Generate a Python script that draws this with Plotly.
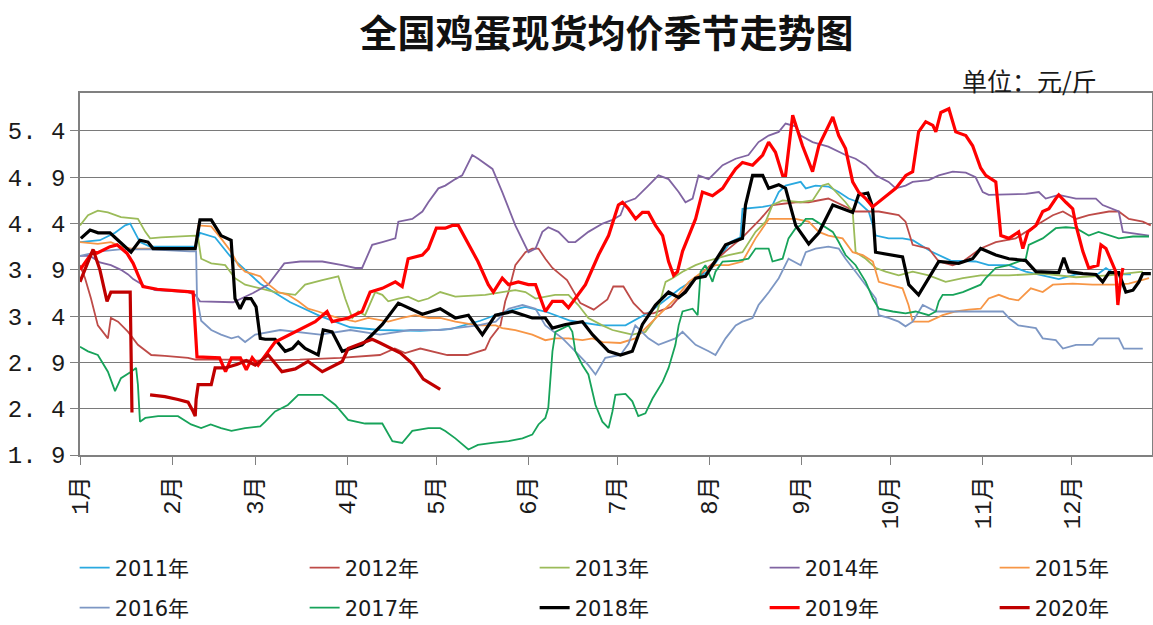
import plotly.graph_objects as go

# ---- axis labels ----
month_labels = ["1月", "2月", "3月", "4月", "5月", "6月", "7月", "8月", "9月", "10月", "11月", "12月"]
month_start_days = [0, 31, 59, 90, 120, 151, 181, 212, 243, 273, 304, 334]
y_tick_values = [1.9, 2.4, 2.9, 3.4, 3.9, 4.4, 4.9, 5.4]
y_tick_text = ["1. 9", "2. 4", "2. 9", "3. 4", "3. 9", "4. 4", "4. 9", "5. 4"]

# ---- series: (day of year, price yuan/jin) ----
s2011 = [(0,4.2),(6.7,4.22),(11.8,4.3),(15.2,4.38),(16.9,4.4),(18.5,4.3),(20.2,4.2),(23.6,4.15),(38.8,4.15),(40.4,4.3),(45.5,4.25),(50.5,4.05),(55.6,3.9),(60.7,3.75),(70.8,3.55),(80.9,3.4),(91,3.28),(101,3.25),(114.6,3.24),(124.7,3.26),(134.8,3.35),(143.2,3.45),(150,3.5),(156.7,3.45),(165.2,3.35),(175.3,3.3),(183.7,3.3),(192.1,3.45),(202.2,3.7),(212.3,3.9),(219.1,4.2),(222.4,4.25),(223.1,4.56),(229.9,4.58),(233.2,4.6),(235.3,4.74),(237.6,4.81),(242.7,4.85),(244.4,4.78),(247.7,4.81),(252,4.8),(255.5,4.74),(258.8,4.67),(262.2,4.63),(265.6,4.53),(268,4.27),(272.3,4.24),(277,4.24),(280.4,4.22),(286.5,4.1),(293.2,4.0),(301.6,3.99),(306,3.95),(312.8,3.95),(318.5,3.88),(324.2,3.84),(329.6,3.8),(335.4,3.85),(343,3.86),(345.5,3.92),(348.8,3.85),(353.9,3.85)]

s2012 = [(0,3.95),(1.7,3.81),(3.7,3.59),(6,3.3),(9.4,3.16),(10.4,3.38),(12.8,3.34),(16.2,3.23),(19.5,3.09),(24,2.98),(28.6,2.97),(36.4,2.95),(38.8,2.93),(50.5,2.93),(59,2.92),(74,2.93),(87.6,2.95),(101,2.98),(106,3.05),(109.5,3.0),(114.6,3.05),(123.7,2.98),(130.4,2.98),(136.5,3.04),(138.2,3.16),(141.6,3.3),(143.2,3.56),(144.3,3.66),(146.6,3.95),(150,4.09),(152.3,4.13),(154.4,4.13),(156.7,4.02),(159.1,3.92),(164,3.79),(168.5,3.54),(173,3.47),(177.6,3.58),(179.6,3.72),(183,3.72),(186.4,3.54),(189.8,3.43),(193,3.43),(199,3.5),(205.6,3.75),(212.3,3.95),(217.4,4.1),(223.1,4.25),(229.2,4.45),(233.2,4.6),(241,4.63),(245.4,4.63),(252,4.67),(261.2,4.53),(269,4.53),(275.7,4.49),(278,4.42),(280.4,4.17),(285.8,4.13),(289.2,3.99),(293.9,3.95),(297.3,3.99),(303.3,4.13),(308.4,4.2),(315.1,4.24),(321.9,4.38),(327.6,4.49),(331,4.53),(335.4,4.45),(339.7,4.49),(346.5,4.53),(349.8,4.53),(353.2,4.45),(357.9,4.42),(360.6,4.38)]

s2013 = [(0,4.38),(2.7,4.49),(6,4.54),(9.4,4.52),(13.8,4.47),(19.5,4.45),(22,4.31),(23.6,4.24),(27.3,4.25),(36.4,4.27),(38.8,4.27),(39.8,4.24),(40.8,4.02),(44.2,3.97),(48.9,3.95),(52.2,3.81),(55.6,3.74),(60.7,3.7),(65.7,3.66),(72.5,3.63),(75.8,3.74),(81.6,3.79),(87,3.83),(89.3,3.59),(91.7,3.38),(93.7,3.45),(96,3.41),(99.4,3.66),(101.8,3.63),(103.8,3.56),(107.2,3.59),(110.5,3.61),(114,3.56),(117.3,3.59),(121.3,3.66),(126.4,3.61),(136.5,3.63),(142.2,3.66),(146.6,3.68),(150,3.66),(153.4,3.59),(160,3.63),(164.5,3.63),(167.8,3.52),(171.2,3.38),(175.9,3.3),(179.3,3.25),(182,3.23),(186,3.2),(190.4,3.23),(193.8,3.38),(197.2,3.77),(199.5,3.81),(202.9,3.88),(207.3,3.95),(210.6,3.99),(214,4.02),(218.4,4.06),(223.1,4.09),(227.5,4.31),(230.9,4.42),(233.2,4.6),(236.6,4.65),(242.7,4.63),(246.7,4.65),(250,4.81),(252,4.83),(254.5,4.74),(257.8,4.63),(260.2,4.53),(261.2,4.09),(264.6,4.02),(268,3.92),(271.3,3.88),(275.7,3.84),(280.4,3.88),(285.8,3.84),(291.5,3.77),(297.3,3.81),(303.3,3.84),(312.8,3.84),(324.2,3.86),(335.4,3.82),(346.5,3.84),(357.9,3.88)]

s2014 = [(0,4.05),(3.4,4.05),(6.7,3.98),(10.4,3.95),(13.8,3.9),(16.2,3.85),(17.9,3.8),(22,3.72),(25.3,3.68),(36.4,3.66),(38.8,3.63),(40.4,3.56),(51.6,3.55),(58.3,3.65),(63.4,3.74),(68.8,3.97),(74.2,3.99),(81.6,3.99),(88.3,3.95),(92.7,3.92),(95,3.92),(98.4,4.17),(101.8,4.2),(106.2,4.24),(107.2,4.42),(111.9,4.45),(115.3,4.53),(117.3,4.63),(120.7,4.78),(123,4.81),(126.4,4.88),(128.7,4.92),(132.1,5.14),(134.1,5.1),(138.9,4.99),(142.2,4.74),(146.6,4.38),(151,4.09),(153.4,4.13),(155.7,4.31),(157.7,4.36),(161.1,4.31),(164.5,4.2),(166.8,4.2),(171.2,4.31),(176,4.4),(179.3,4.44),(182,4.49),(183.7,4.63),(187,4.67),(191.4,4.81),(194.8,4.92),(198.2,4.88),(201.6,4.74),(203.9,4.63),(206.3,4.67),(208.3,4.92),(211.7,4.88),(216.4,5.03),(220.8,5.1),(225.1,5.14),(228.5,5.28),(231.9,5.35),(235.3,5.39),(237.6,5.48),(241,5.45),(242.7,5.35),(246.7,5.28),(252,5.23),(257.8,5.14),(261.2,5.1),(264.6,5.03),(268,4.92),(272.3,4.85),(274.7,4.78),(278,4.81),(280.4,4.85),(285.8,4.87),(289.2,4.92),(293.9,4.96),(298.3,4.95),(301.6,4.9),(304,4.74),(306,4.71),(318.5,4.72),(322.9,4.74),(325.2,4.67),(329.6,4.71),(335.4,4.67),(342.1,4.67),(344.4,4.6),(347.8,4.56),(349.8,4.53),(351.2,4.31),(360,4.27)]

s2015 = [(0,4.2),(6,4.18),(10.4,4.2),(13.8,4.15),(17.2,4.13),(22,4.13),(38.8,4.13),(39.8,4.38),(44.2,4.37),(47.5,4.24),(51,4.09),(53.3,3.95),(55.6,3.88),(60.7,3.83),(62.4,3.77),(66.7,3.66),(70,3.63),(73.5,3.56),(76.8,3.48),(80.2,3.45),(83.6,3.41),(87,3.38),(92.7,3.34),(97.1,3.38),(103.8,3.34),(108.5,3.38),(112.9,3.41),(117.3,3.38),(121.3,3.38),(126.4,3.34),(134,3.3),(140,3.3),(142.2,3.27),(146.6,3.25),(152.3,3.2),(156.7,3.14),(160,3.16),(164.5,3.16),(169.2,3.14),(172.6,3.16),(176,3.12),(182,3.11),(187,3.16),(191.4,3.3),(196.2,3.45),(200.5,3.59),(205,3.77),(209.6,3.88),(214,3.95),(218.4,3.95),(223.1,3.99),(227.5,4.24),(232,4.45),(236.6,4.45),(241,4.45),(245.4,4.42),(248.8,4.31),(252,4.27),(256.8,4.24),(260.2,4.09),(263.6,4.06),(267,3.99),(269,3.77),(272.3,3.74),(277,3.7),(279,3.52),(280.4,3.34),(285.8,3.34),(290.5,3.41),(294.9,3.45),(299.3,3.47),(303.3,3.48),(306,3.59),(309.4,3.63),(312.8,3.59),(316,3.57),(320.2,3.7),(324.2,3.66),(327.6,3.74),(334.3,3.75),(341,3.74),(348.8,3.74),(353.2,3.75),(360,3.81)]

s2016 = [(0,4.05),(6.7,4.1),(13.5,4.12),(23.6,4.12),(37,4.1),(39.1,4.1),(39.4,3.6),(40.8,3.35),(44.2,3.25),(47.5,3.2),(51,3.16),(53.3,3.18),(55.6,3.12),(59,3.2),(67.4,3.25),(80.9,3.2),(91,3.25),(101,3.2),(111.2,3.25),(121.3,3.25),(126.4,3.27),(134,3.3),(140,3.34),(144.3,3.48),(149,3.52),(153.4,3.48),(156.7,3.3),(162.5,3.16),(166.8,3.02),(171.2,2.87),(173.6,2.77),(176.9,2.95),(182,2.98),(184.7,3.1),(187,3.3),(191.4,3.16),(194.8,3.09),(200.5,3.16),(202.9,3.23),(207.3,3.09),(211.7,3.02),(214,2.98),(217.4,3.16),(220.8,3.3),(223.1,3.34),(226.5,3.38),(228.5,3.52),(232,3.66),(235.3,3.81),(238.6,4.02),(242.7,3.95),(244.4,4.09),(247.7,4.13),(252,4.15),(255.5,4.13),(257.8,4.02),(261.2,3.88),(264.6,3.74),(268,3.59),(269,3.41),(272.3,3.38),(275.7,3.34),(278,3.29),(280.4,3.34),(283.8,3.52),(288.2,3.45),(292.6,3.45),(297.3,3.45),(303.3,3.45),(310.8,3.45),(312.8,3.38),(316,3.3),(321.9,3.27),(324.2,3.16),(328.6,3.14),(331,3.05),(335.4,3.09),(341,3.09),(343,3.16),(349.8,3.16),(351.5,3.05),(357.9,3.05)]

s2017 = [(0,3.07),(2.7,3.02),(6,2.98),(9.4,2.8),(11.8,2.59),(13.8,2.73),(17.2,2.8),(18.9,2.84),(19.5,2.66),(20.2,2.26),(22,2.3),(26.3,2.32),(33,2.32),(37.4,2.23),(40.8,2.19),(44,2.23),(47.5,2.19),(51,2.16),(55.6,2.19),(60.7,2.21),(62.4,2.26),(65.7,2.37),(70,2.44),(73.5,2.55),(81.6,2.55),(86,2.44),(90.3,2.28),(96,2.24),(101.8,2.24),(105.2,2.05),(108.5,2.03),(111.9,2.16),(117.3,2.19),(121.3,2.19),(123,2.16),(126.4,2.08),(130.8,1.96),(134,2.01),(138.9,2.03),(144.3,2.05),(149,2.08),(152.3,2.12),(154.4,2.23),(156.7,2.3),(157.7,2.41),(159.1,3.02),(160.1,3.23),(162.5,3.27),(164.5,3.3),(165.8,3.23),(166.8,3.02),(169.2,2.87),(171.2,2.77),(173.6,2.44),(175.9,2.26),(178,2.19),(179.3,2.37),(180.3,2.55),(183.7,2.56),(186,2.48),(188,2.32),(190.4,2.35),(192.8,2.51),(196.2,2.69),(198.2,2.84),(200.5,3.09),(201.6,3.3),(202.9,3.45),(206.3,3.48),(208,3.41),(209,3.88),(210.6,3.95),(213,3.77),(214,3.88),(216.4,3.99),(221.8,4.0),(225.1,4.02),(227.5,4.13),(231.9,4.13),(233.2,3.99),(236.6,4.02),(238.6,4.24),(241,4.35),(242.7,4.38),(244.4,4.45),(246.7,4.45),(250,4.38),(253.5,4.31),(255.5,4.2),(257.8,4.06),(261.2,3.95),(264.6,3.77),(267,3.59),(269,3.48),(273.7,3.45),(278,3.43),(281.4,3.45),(285.8,3.41),(288.2,3.45),(289.2,3.56),(290.5,3.63),(294,3.63),(297.3,3.66),(300.6,3.7),(303.3,3.74),(305,3.81),(308.4,3.92),(312.8,3.95),(318.5,4.02),(319.5,4.17),(324.2,4.24),(328.6,4.35),(332,4.36),(335.4,4.35),(339.7,4.27),(343,4.31),(346.5,4.27),(349.8,4.24),(354.6,4.26),(360,4.26)]

s2018 = [(0.3,4.24),(3.4,4.33),(6.1,4.3),(10.1,4.3),(12.8,4.22),(17.2,4.09),(20.2,4.22),(22.9,4.2),(24.6,4.13),(38.8,4.13),(40.4,4.44),(44.2,4.44),(47.5,4.27),(50.9,4.22),(52.2,3.59),(53.9,3.48),(55.6,3.59),(57.6,3.59),(59.3,3.5),(60.7,3.16),(62.4,3.15),(65.7,3.15),(69.1,3.02),(71.5,3.05),(73.5,3.12),(75.8,3.05),(80.2,2.98),(81.9,3.25),(84.9,3.23),(88.3,3.02),(95,3.09),(101.8,3.31),(107.2,3.54),(115.3,3.42),(121.3,3.48),(126.4,3.38),(130.8,3.41),(135.5,3.2),(139.9,3.41),(145.6,3.45),(152.3,3.38),(156.7,3.38),(159.1,3.27),(163.5,3.31),(169.2,3.34),(172.6,3.2),(178,3.02),(182,2.98),(186,3.02),(189.4,3.31),(193.8,3.52),(198.2,3.66),(201.6,3.6),(203.9,3.66),(207.3,3.81),(210.6,3.83),(214,4.0),(217.4,4.17),(223.1,4.24),(224.1,4.6),(226.5,4.92),(229.9,4.92),(231.9,4.78),(235.3,4.82),(237.6,4.78),(241,4.38),(245.4,4.18),(248.8,4.3),(253.5,4.6),(256.8,4.56),(260.2,4.52),(262.2,4.71),(265.3,4.73),(266.9,4.58),(267.9,4.09),(277,4.04),(279.1,3.74),(282.4,3.63),(285.8,3.81),(289.2,3.99),(295.9,3.97),(300.6,4.02),(303.3,4.13),(308.4,4.06),(312.8,4.02),(318.5,4.0),(321.9,3.88),(329.6,3.87),(331.3,4.03),(333,3.88),(337.7,3.86),(342.1,3.85),(344.4,3.77),(346.5,3.87),(349.8,3.87),(352.2,3.66),(354.6,3.68),(356.6,3.77),(357.9,3.86),(360.6,3.86)]

s2019 = [(0,3.9),(4.4,4.1),(5.7,4.08),(10.1,4.15),(12.5,4.17),(15.8,4.08),(17.9,3.97),(21.2,3.72),(26,3.69),(38.1,3.66),(39.4,2.96),(44,2.95),(47,2.95),(49,2.8),(51,2.95),(54,2.95),(56,2.82),(58,2.95),(60,2.87),(65.7,3.12),(72.5,3.23),(79.2,3.34),(83.2,3.45),(84.9,3.34),(90.3,3.38),(95,3.45),(97.7,3.66),(101.8,3.7),(106.2,3.77),(108.5,3.72),(110.5,4.02),(115.3,4.06),(117.3,4.13),(120,4.35),(123,4.35),(125.4,4.38),(127.4,4.38),(130.8,4.17),(134,3.99),(137.5,3.74),(139.2,3.66),(142.2,3.81),(144.3,3.74),(147.6,3.77),(151,3.74),(153.4,3.74),(156.7,3.45),(159.1,3.56),(162.5,3.56),(164.5,3.49),(166.8,3.59),(170.2,3.74),(174.6,4.06),(178,4.27),(181.3,4.6),(182.7,4.63),(184.7,4.56),(187.1,4.45),(189.4,4.52),(191.4,4.52),(193.8,4.38),(196.2,4.27),(198.2,3.99),(199.9,3.84),(201.2,3.88),(202.9,4.1),(207.3,4.45),(209.6,4.74),(213,4.7),(216.4,4.78),(218.4,4.88),(220.8,4.99),(223.1,5.06),(226.5,5.03),(229.9,5.14),(231.9,5.28),(234.2,5.17),(236.6,4.92),(237.6,4.92),(240,5.57),(241.7,5.4),(243.3,5.24),(246.7,4.96),(248.8,5.24),(253.5,5.55),(255.5,5.35),(257.8,5.21),(260.2,4.85),(262.2,4.74),(264.6,4.67),(266.9,4.58),(270.3,4.67),(274.7,4.78),(278.1,4.92),(280.4,4.96),(282.4,5.39),(284.8,5.5),(287.2,5.46),(288.2,5.39),(289.9,5.6),(292.6,5.64),(294.9,5.39),(298.3,5.35),(300.6,5.24),(303.3,5.0),(305,4.92),(308.4,4.85),(310.1,4.27),(312.8,4.24),(316.1,4.31),(317.5,4.13),(319.2,4.31),(321.9,4.38),(324.2,4.53),(326.3,4.56),(328.6,4.67),(329.6,4.71),(332,4.63),(334.3,4.56),(335.4,4.38),(337.7,4.1),(339.7,3.92),(342.8,3.95),(343.8,4.17),(345.5,4.13),(348.8,3.88),(349.5,3.52),(350.5,3.81),(351.2,3.92)]

s2020 = [(0,3.77),(4.4,4.12),(6.7,3.9),(9.1,3.56),(10.4,3.66),(16.9,3.66),(17.5,2.36),(20,None),(23.6,2.55),(28.6,2.53),(33,2.5),(36.4,2.47),(38.1,2.37),(38.8,2.32),(39.1,2.5),(39.8,2.66),(44.2,2.66),(45.5,2.84),(48.9,2.84),(53,2.88),(56,2.92),(59,2.87),(63.4,2.98),(68,2.8),(72.5,2.83),(76.8,2.91),(81.6,2.8),(88.3,2.91),(90.3,3.05),(96.1,3.12),(98.4,3.15),(101.1,3.11),(107.9,3.0),(112.2,2.88),(115.6,2.72),(121.3,2.61)]

series_names = ["2011年", "2012年", "2013年", "2014年", "2015年",
                "2016年", "2017年", "2018年", "2019年", "2020年"]
series_data = [s2011, s2012, s2013, s2014, s2015, s2016, s2017, s2018, s2019, s2020]
series_colors = ["#2AA9E0", "#BE4B48", "#9BBB59", "#8064A2", "#F79646",
                 "#7D97C4", "#17A35A", "#000000", "#FF0000", "#C00000"]
series_widths = [1.8, 1.8, 1.8, 1.8, 1.8, 1.8, 1.8, 3.2, 3.2, 3.2]
series_legend = ["legend"] * 5 + ["legend2"] * 5
# last entry of each legend row gets a narrower slot so the row fits the page
series_legend_width = [185, 185, 185, 185, 90, 185, 185, 185, 185, 90]

fig = go.Figure()
for name, pts, color, width, lg, lw in zip(series_names, series_data, series_colors,
                                            series_widths, series_legend, series_legend_width):
    fig.add_trace(go.Scatter(
        x=[p[0] for p in pts], y=[p[1] for p in pts],
        mode="lines", name=name, legend=lg, legendwidth=lw,
        line=dict(color=color, width=width),
        connectgaps=False,
    ))

tick_font = dict(family="Liberation Mono, Noto Sans CJK SC", size=24, color="#1a1a1a")
legend_font = dict(family="DejaVu Sans, Noto Sans CJK SC", size=21, color="#1a1a1a")

fig.update_layout(
    width=1153, height=625,
    margin=dict(l=80, r=1, t=93, b=170, autoexpand=False),
    paper_bgcolor="white", plot_bgcolor="white",
    title=dict(text="全国鸡蛋现货均价季节走势图", x=0.526, xanchor="center",
               y=0.946, yanchor="middle",
               font=dict(family="Noto Sans CJK SC", size=38, color="#111111", weight="bold")),
    xaxis=dict(range=[0, 361], tickmode="array", tickvals=month_start_days,
               ticktext=month_labels, tickangle=-90, ticks="outside", ticklen=8,
               ticklabelstandoff=2,
               tickcolor="#808080", showgrid=False, zeroline=False, automargin=False,
               showline=True, linecolor="#808080", linewidth=1.5, mirror=True,
               tickfont=dict(family="Liberation Mono, Noto Sans CJK SC", size=24, color="#1a1a1a")),
    yaxis=dict(range=[1.9, 5.81], tickmode="array", tickvals=y_tick_values,
               ticktext=y_tick_text, ticks="outside", ticklen=8, tickcolor="#808080",
               showgrid=True, gridcolor="#7a7a7a", gridwidth=1.3, zeroline=False,
               automargin=False,
               showline=True, linecolor="#808080", linewidth=1.5, mirror=True,
               tickfont=tick_font),
    legend=dict(orientation="h", x=-0.005, xanchor="left", y=-0.312, yanchor="middle",
                entrywidth=185, entrywidthmode="pixels", font=legend_font,
                bgcolor="rgba(0,0,0,0)", traceorder="normal"),
    legend2=dict(orientation="h", x=-0.005, xanchor="left", y=-0.4227, yanchor="middle",
                 entrywidth=185, entrywidthmode="pixels", font=legend_font,
                 bgcolor="rgba(0,0,0,0)", traceorder="normal"),
    showlegend=True,
    annotations=[dict(text="单位：元/斤", xref="paper", yref="paper", x=0.951, y=1.036,
                      xanchor="right", yanchor="middle", showarrow=False,
                      font=dict(family="Noto Sans CJK SC", size=25, color="#1a1a1a"))],
)

# remove the browser's default page margin so the figure sits at the top-left corner
fig.write_html("out.html", config={"displayModeBar": False},
               post_script="document.body.style.margin='0';")
